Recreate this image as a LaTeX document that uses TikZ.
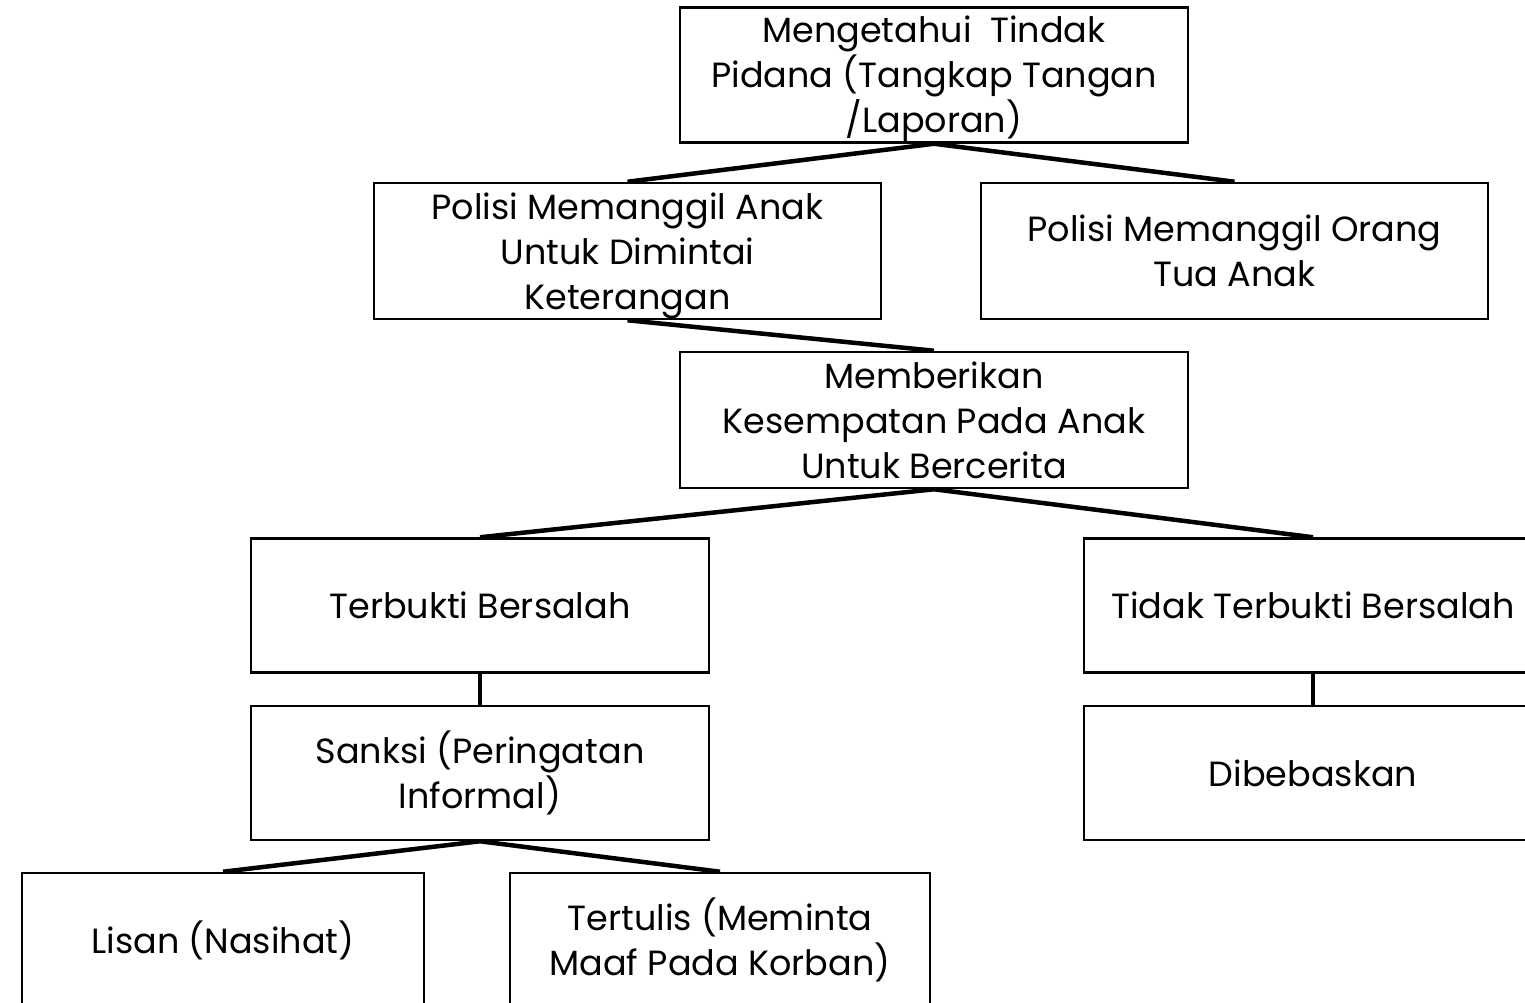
\documentclass[tikz,border=0pt]{standalone}
\usepackage{fontspec}
\setmainfont{Poppins}
% fixed line box, like the word processor the chart came from
\newcommand{\linestrut}{\rule[-9.5pt]{0pt}{45pt}}

\begin{document}
\begin{tikzpicture}[x=1pt,y=-1pt,
        box/.style={shape=rectangle,draw=black,line width=2.5pt,inner sep=0pt,align=center,
                    font=\fontsize{35}{45}\selectfont},
        link/.style={line width=4.5pt}]
                \clip (0,0) rectangle (1525,1003);
                \node[box,minimum width=508pt,minimum height=134pt](tahu)at(934, 75){\linestrut Mengetahui~~Tindak\\\linestrut Pidana (Tangkap Tangan\\\linestrut /Laporan)};
                \node[box,minimum width=507pt,minimum height=136pt](anak)at(627.5, 251){\linestrut Polisi Memanggil Anak\\\linestrut Untuk Dimintai\\\linestrut Keterangan};
                \node[box,minimum width=507pt,minimum height=136pt](ortu)at(1234.5, 251){\linestrut Polisi Memanggil Orang\\\linestrut Tua Anak};
                \node[box,minimum width=508pt,minimum height=136pt](cerita)at(934, 420){\linestrut Memberikan\\\linestrut Kesempatan Pada Anak\\\linestrut Untuk Bercerita};
                \path[link] (tahu.south) edge (anak.north)
                (tahu.south) edge (ortu.north)
                (anak.south) edge (cerita.north);

                \node[box,minimum width=458pt,minimum height=134pt](salah)at(480, 605.5){\linestrut Terbukti Bersalah};
                \node[box,minimum width=458pt,minimum height=134pt](sanksi)at(480, 773){\linestrut Sanksi (Peringatan\\\linestrut Informal)};
                \node[box,minimum width=458pt,minimum height=134pt](tidak)at(1313, 605.5){\linestrut Tidak Terbukti Bersalah};
                \node[box,minimum width=458pt,minimum height=134pt](bebas)at(1313, 773){\linestrut Dibebaskan};
                \path[link] (cerita.south) edge (salah.north)
                (cerita.south) edge (tidak.north)
                (salah.south) edge (sanksi.north)
                (tidak.south) edge (bebas.north);

                \node[box,minimum width=402pt,minimum height=134pt](lisan)at(223, 940){\linestrut Lisan (Nasihat)};
                \node[box,minimum width=420pt,minimum height=134pt](tulis)at(720, 940){\linestrut Tertulis (Meminta\\\linestrut Maaf Pada Korban)};
                \path[link] (sanksi.south) edge (lisan.north)
                (sanksi.south) edge (tulis.north);
            \end{tikzpicture}
\end{document}
